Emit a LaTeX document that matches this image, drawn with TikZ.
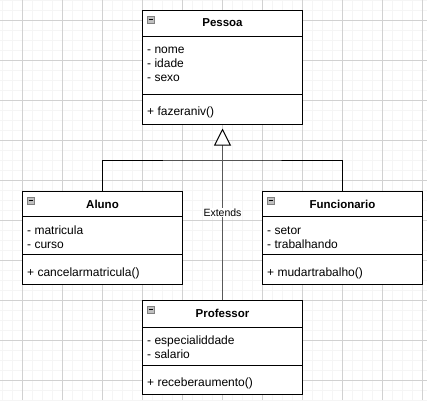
\documentclass[tikz,border=0pt]{standalone}
\usepackage{fontspec}
\setmainfont{Liberation Sans}
\usetikzlibrary{arrows.meta}
\tikzset{
  gridminor/.style={draw=black!4, line width=0.8pt},
  gridmajor/.style={draw=black!18, line width=0.8pt},
  classbox/.style={draw=black, fill=white, line width=1pt, rectangle, minimum width=160pt, inner sep=0pt, anchor=north west},
  divider/.style={draw=black, line width=1pt},
  ctitle/.style={font=\fontsize{11.5}{14}\selectfont\bfseries, inner sep=0pt},
  cmember/.style={font=\fontsize{12}{14}\selectfont, anchor=base west, inner sep=0pt},
  iconbox/.style={draw=black!50, fill=black!25, minimum size=7pt, inner sep=0pt, anchor=north west, line width=0.6pt},
  iconbar/.style={draw=black, line width=0.9pt},
  inherit/.style={draw=black, line width=1pt},
  extends/.style={draw=black!65, line width=1.6pt, shorten >=3.5pt, -{Triangle[length=17pt, width=17pt, color=black, fill=white, line width=1pt]}},
  extlabel/.style={font=\fontsize{10.5}{12}\selectfont, fill=white, inner sep=1pt},
}
\newcommand\umlbox[7]{% name, x, top, height, div1, div2, title
  \node[classbox, minimum height=#4pt] (#1) at (#2,#3) {};
  \coordinate (#1-d1) at (#2,#5);
  \coordinate (#1-d2) at (#2,#6);
  \draw[divider] (#1.west |- #1-d1) -- (#1.east |- #1-d1);
  \draw[divider] (#1.west |- #1-d2) -- (#1.east |- #1-d2);
  \node[ctitle] (#1-title) at ([yshift=-13pt]#1.north) {#7};
  \node[iconbox] (#1-icon) at ([xshift=5pt,yshift=-6pt]#1.north west) {};
  \draw[iconbar] ([xshift=1.5pt]#1-icon.west) -- ([xshift=-1.5pt]#1-icon.east);
}
\begin{document}
\begin{tikzpicture}[x=1pt, y=-1pt]
\useasboundingbox (0,0) rectangle (427,400);
\fill[white] (0,0) rectangle (427,400);
% grid
\foreach \x in {2,12,...,422} \draw[gridminor] (\x,0) -- (\x,400);
\foreach \y in {0,10,...,400} \draw[gridminor] (0,\y) -- (427,\y);
\foreach \x in {22,62,...,422} \draw[gridmajor] (\x,0) -- (\x,400);
\foreach \y in {20,60,...,380} \draw[gridmajor] (0,\y) -- (427,\y);

% classes
\umlbox{pessoa}{142}{10}{114}{36}{94}{Pessoa}
\node[cmember] (pessoa-a1) at (147,53.5) {- nome};
\node[cmember] (pessoa-a2) at (147,67.5) {- idade};
\node[cmember] (pessoa-a3) at (147,81.5) {- sexo};
\node[cmember] (pessoa-m1) at (147,115) {+ fazeraniv()};

\umlbox{aluno}{22}{191}{93}{216.5}{254.5}{Aluno}
\node[cmember] (aluno-a1) at (27,234) {- matricula};
\node[cmember] (aluno-a2) at (27,248) {- curso};
\node[cmember] (aluno-m1) at (27,276) {+ cancelarmatricula()};

\umlbox{funcionario}{262}{191}{93}{216.5}{254.5}{Funcionario}
\node[cmember] (func-a1) at (267,234) {- setor};
\node[cmember] (func-a2) at (267,248) {- trabalhando};
\node[cmember] (func-m1) at (267,276) {+ mudartrabalho()};

\umlbox{professor}{142}{300}{94}{327}{365}{Professor}
\node[cmember] (prof-a1) at (147,344.5) {- especialiddade};
\node[cmember] (prof-a2) at (147,358.5) {- salario};
\node[cmember] (prof-m1) at (147,386) {+ receberaumento()};

% connectors
\coordinate (junction) at (222,160);
\draw[inherit] (aluno.north) |- (junction) -| (funcionario.north);
\draw[extends] (professor.north) -- node[extlabel] (extlbl) {Extends} (pessoa.south);
\end{tikzpicture}
\end{document}
